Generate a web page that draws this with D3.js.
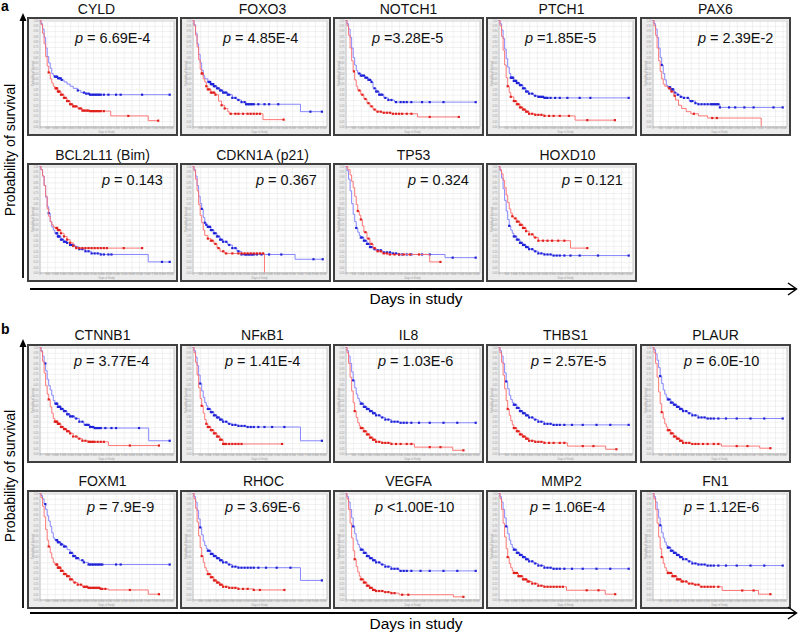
<!DOCTYPE html>
<html><head><meta charset="utf-8">
<script src="https://cdn.jsdelivr.net/npm/d3@7"></script>
<style>body{margin:0;background:#fff}svg{display:block}text{font-family:"Liberation Sans",Arial,Helvetica,sans-serif}</style>
</head><body><svg id="c" width="798" height="633"></svg>
<script>
// ---------- labels ----------
const titles = ["CYLD","FOXO3","NOTCH1","PTCH1","PAX6","BCL2L11 (Bim)","CDKN1A (p21)","TP53","HOXD10",
  "CTNNB1","NFκB1","IL8","THBS1","PLAUR","FOXM1","RHOC","VEGFA","MMP2","FN1"];
const pTexts = [" = 6.69E-4"," = 4.85E-4"," =3.28E-5"," =1.85E-5"," = 2.39E-2"," = 0.143"," = 0.367"," = 0.324"," = 0.121",
  " = 3.77E-4"," = 1.41E-4"," = 1.03E-6"," = 2.57E-5"," = 6.0E-10"," = 7.9E-9"," = 3.69E-6"," <1.00E-10"," = 1.06E-4"," = 1.12E-6"];
const yTicks = [0,0.05,0.1,0.15,0.2,0.25,0.3,0.35,0.4,0.45,0.5,0.55,0.6,0.65,0.7,0.75,0.8,0.85,0.9,0.95,1];
const xTicks = [0,500,1000,1500,2000,2500,3000,3500,4000,4500,5000,5500,6000,6500,7000,7500,8000,8500];

// ---------- curves: [day, survival from that day] ; censor days ----------
const CYLD_b = [[0,1],[100,0.97],[200,0.92],[300,0.84],[400,0.74],[500,0.66],[600,0.6],[700,0.55],[800,0.5],[900,0.48],[1000,0.47],[1200,0.455],[1400,0.44],[1600,0.42],[1800,0.4],[2000,0.38],[2200,0.36],[2500,0.34],[2700,0.32],[3000,0.31],[3300,0.3],[8550,0.3]];
const CYLD_bc = [1000,1080,1150,1220,1300,1380,1450,2500,2900,3050,3200,3300,3400,3500,3600,3700,3800,3900,4000,4200,4500,5000,5300,6700,8500];
const CYLD_r = [[0,1],[100,0.96],[200,0.88],[300,0.78],[400,0.66],[500,0.57],[600,0.51],[700,0.45],[800,0.41],[900,0.38],[1000,0.36],[1200,0.33],[1400,0.3],[1600,0.27],[1800,0.24],[2000,0.21],[2200,0.19],[2500,0.17],[2800,0.15],[3300,0.145],[4650,0.1],[7100,0.055],[7750,0.055]];
const CYLD_rc = [600,1050,1100,1150,1200,1250,1300,1400,1500,1600,1700,1800,1900,2000,2100,2200,2300,2400,2600,2700,2800,2900,3000,3100,3200,3300,3400,3500,3600,3700,3800,3900,4000,4200,5800,7750];

const FOXO3_b = [[0,1],[100,0.96],[200,0.88],[300,0.78],[400,0.68],[500,0.6],[600,0.53],[700,0.48],[800,0.45],[1000,0.42],[1200,0.4],[1400,0.38],[1600,0.36],[1800,0.34],[2000,0.32],[2300,0.3],[2600,0.27],[2900,0.25],[3200,0.23],[3500,0.21],[7050,0.14],[8500,0.14]];
const FOXO3_bc = [1050,1100,1150,1200,1250,1300,1350,1400,1500,1600,1700,1800,1900,2000,2100,2200,2300,2400,2600,2800,3000,3200,3400,3500,3600,3700,3800,3900,4000,4300,4700,5000,5600,7700,8450];
const FOXO3_r = [[0,1],[100,0.95],[200,0.86],[300,0.75],[400,0.63],[500,0.54],[600,0.5],[700,0.45],[800,0.42],[900,0.38],[1000,0.35],[1200,0.32],[1500,0.3],[1700,0.24],[1900,0.2],[2100,0.17],[2300,0.14],[2400,0.12],[4600,0.065],[5950,0.065]];
const FOXO3_rc = [600,650,900,1000,1100,1200,1300,1400,1500,1900,2100,2500,2800,3000,3300,3600,3800,4000,4200,4400,5950];

const NOTCH1_b = [[0,1],[100,0.97],[200,0.92],[300,0.84],[400,0.74],[500,0.65],[600,0.58],[700,0.53],[800,0.5],[1000,0.48],[1300,0.46],[1500,0.44],[1700,0.42],[1800,0.36],[2000,0.33],[2200,0.3],[2500,0.27],[2800,0.25],[3200,0.23],[8550,0.23]];
const NOTCH1_bc = [900,1000,1100,1200,1300,1400,1500,1600,1700,1900,2000,2100,2200,2300,2400,2600,2800,3000,3300,3600,3800,4000,4300,5000,5500,6400,8500];
const NOTCH1_r = [[0,1],[100,0.95],[200,0.86],[300,0.74],[400,0.62],[500,0.52],[600,0.44],[700,0.38],[800,0.34],[1000,0.3],[1200,0.26],[1400,0.22],[1600,0.19],[1800,0.16],[2000,0.14],[2400,0.13],[3000,0.12],[4700,0.09],[7400,0.09]];
const NOTCH1_rc = [550,900,1100,1300,1500,1700,1900,2100,2300,2500,2700,2900,3100,3300,3500,3700,4000,4300,5500,7400];

const PTCH1_b = [[0,1],[100,0.97],[200,0.91],[300,0.83],[400,0.73],[500,0.64],[600,0.56],[700,0.5],[800,0.46],[1000,0.43],[1200,0.41],[1400,0.39],[1600,0.36],[1800,0.33],[2000,0.31],[2300,0.29],[2600,0.28],[3000,0.27],[8550,0.27]];
const PTCH1_bc = [800,850,900,950,1000,1050,1100,1150,1200,1300,1400,1500,1600,1700,1800,1900,2000,2200,2400,2600,2700,2800,2900,3000,3100,3200,3400,3700,4000,4500,5300,6000,8500];
const PTCH1_r = [[0,1],[100,0.95],[200,0.85],[300,0.72],[400,0.58],[500,0.46],[600,0.38],[700,0.32],[800,0.28],[1000,0.24],[1200,0.21],[1400,0.18],[1600,0.16],[1800,0.14],[2000,0.12],[2400,0.11],[3000,0.1],[5000,0.06],[7600,0.06]];
const PTCH1_rc = [600,800,1000,1100,1200,1300,1400,1500,1600,1700,1800,1900,2000,2200,2400,2600,2800,3000,3300,3600,4000,4600,5800,7600];

const PAX6_b = [[0,1],[100,0.97],[200,0.92],[300,0.84],[400,0.74],[500,0.65],[600,0.58],[700,0.5],[800,0.44],[900,0.39],[1000,0.37],[1200,0.35],[1400,0.32],[1600,0.3],[1800,0.28],[2000,0.27],[2400,0.24],[2800,0.22],[3000,0.21],[4400,0.18],[8550,0.18]];
const PAX6_bc = [600,1100,1150,1200,1250,1300,1350,1450,1650,1850,2050,2300,2500,2600,2800,3000,3200,3400,3600,3800,3900,4000,4100,4200,4300,4400,5000,5400,6000,6600,7900,8500];
const PAX6_r = [[0,1],[100,0.95],[200,0.86],[300,0.74],[400,0.62],[500,0.52],[600,0.45],[700,0.4],[800,0.38],[1000,0.36],[1200,0.33],[1400,0.29],[1500,0.25],[1700,0.2],[1900,0.17],[2200,0.14],[2500,0.12],[3000,0.1],[3600,0.08],[7100,0]];
const PAX6_rc = [1100,1250,1450,2700,3900,4200];

const BCL2L11_b = [[0,1],[100,0.97],[200,0.91],[300,0.82],[400,0.71],[500,0.62],[600,0.56],[700,0.48],[800,0.43],[900,0.4],[1000,0.37],[1200,0.34],[1400,0.31],[1600,0.29],[1800,0.28],[2000,0.26],[2300,0.24],[2600,0.22],[3000,0.2],[3400,0.18],[4000,0.17],[7100,0.1],[8550,0.1]];
const BCL2L11_bc = [600,1100,1150,1200,1250,1300,1400,1500,1600,1700,1800,2000,2100,2200,2400,2600,2800,3000,3200,3400,3600,3800,4000,4200,4500,4700,8000,8500];
const BCL2L11_r = [[0,1],[100,0.97],[200,0.91],[300,0.82],[400,0.72],[500,0.6],[600,0.53],[700,0.48],[800,0.45],[900,0.43],[1000,0.42],[1200,0.4],[1400,0.37],[1600,0.34],[1800,0.31],[2000,0.28],[2200,0.25],[2400,0.23],[6700,0.23]];
const BCL2L11_rc = [1100,1150,1200,1300,1400,1600,1800,2000,2200,2400,2600,2800,3000,3200,3400,3600,3800,4000,4200,4400,5500,6700];

const CDKN1A_b = [[0,1],[100,0.97],[200,0.91],[300,0.82],[400,0.72],[500,0.65],[600,0.6],[700,0.52],[800,0.47],[900,0.45],[1000,0.43],[1200,0.4],[1400,0.37],[1600,0.34],[1800,0.31],[2000,0.29],[2300,0.26],[2600,0.23],[2900,0.2],[3200,0.17],[6700,0.125],[8550,0.125]];
const CDKN1A_bc = [600,800,900,1000,1050,1100,1150,1200,1300,1400,1500,1600,1700,1800,1900,2000,2200,2400,2600,2800,3000,3200,3400,3500,3600,3700,3800,3900,4000,4200,4500,5000,5800,7900,8500];
const CDKN1A_r = [[0,1],[100,0.96],[200,0.88],[300,0.77],[400,0.64],[500,0.54],[600,0.47],[700,0.4],[800,0.35],[1000,0.32],[1200,0.3],[1400,0.27],[1600,0.23],[1800,0.2],[2100,0.18],[4700,0]];
const CDKN1A_rc = [1000,1200,1300,1500,1700,2000,2200,2600,3000,3200,3400,3600,3800,4000,4200,4400,4600];

const TP53_b = [[0,1],[100,0.96],[200,0.88],[300,0.77],[400,0.65],[500,0.55],[600,0.48],[700,0.42],[800,0.38],[900,0.35],[1000,0.33],[1200,0.3],[1400,0.27],[1600,0.24],[1800,0.22],[2000,0.21],[2400,0.19],[3000,0.18],[3500,0.17],[6500,0.14],[8550,0.14]];
const TP53_bc = [700,1000,1100,1200,1300,1400,1500,1600,1700,1900,2100,2300,2500,2700,2900,3100,3300,3500,3700,4000,4300,5000,5500,7000,8500];
const TP53_r = [[0,1],[150,0.97],[300,0.92],[400,0.86],[500,0.8],[600,0.72],[700,0.64],[800,0.58],[900,0.54],[1000,0.5],[1100,0.44],[1200,0.38],[1400,0.32],[1600,0.27],[1800,0.23],[2000,0.2],[2400,0.18],[2800,0.17],[5500,0.1],[6200,0.1]];
const TP53_rc = [800,1000,1300,1500,1700,1900,2100,2300,2500,2700,2900,3200,3500,3800,4200,4800,6200];

const HOXD10_b = [[0,1],[100,0.96],[200,0.89],[300,0.79],[400,0.68],[500,0.58],[600,0.5],[700,0.44],[800,0.4],[900,0.37],[1000,0.34],[1200,0.31],[1400,0.28],[1600,0.26],[1800,0.24],[2000,0.22],[2300,0.2],[2600,0.18],[3000,0.17],[3500,0.16],[8550,0.16]];
const HOXD10_bc = [700,1000,1100,1200,1300,1400,1500,1600,1700,1800,1900,2000,2200,2400,2600,2800,3000,3200,3400,3600,3800,4000,4300,4700,5300,6500,8500];
const HOXD10_r = [[0,1],[100,0.97],[200,0.93],[300,0.87],[400,0.8],[500,0.73],[600,0.66],[700,0.6],[800,0.56],[900,0.53],[1000,0.51],[1200,0.48],[1400,0.45],[1600,0.42],[1800,0.39],[2000,0.36],[2300,0.33],[2600,0.3],[4700,0.23],[5800,0.23]];
const HOXD10_rc = [900,1100,1200,1300,1400,1500,1600,1700,1800,2000,2200,2400,2600,2900,3200,3500,3900,4300,5800];

const CTNNB1_b = [[0,1],[100,0.97],[200,0.92],[300,0.85],[400,0.78],[500,0.7],[600,0.64],[700,0.6],[800,0.55],[900,0.5],[1000,0.47],[1200,0.44],[1400,0.42],[1600,0.4],[1800,0.37],[2000,0.35],[2300,0.33],[2600,0.3],[2900,0.27],[3300,0.25],[3600,0.24],[7130,0.12],[8550,0.12]];
const CTNNB1_bc = [380,1050,1100,1150,1200,1250,1300,1350,1400,1500,1600,1700,1800,1900,2000,2100,2200,2400,2600,2800,3000,3100,3200,3300,3400,3500,3600,3700,3800,3900,4000,4300,4700,5000,6500,8500];
const CTNNB1_r = [[0,1],[100,0.96],[200,0.87],[300,0.76],[400,0.64],[500,0.56],[600,0.51],[700,0.44],[800,0.38],[900,0.33],[1000,0.3],[1200,0.28],[1400,0.25],[1600,0.23],[1800,0.21],[2000,0.19],[2200,0.16],[2500,0.14],[2800,0.12],[3200,0.11],[4500,0.075],[7800,0.075]];
const CTNNB1_rc = [600,1000,1050,1100,1150,1200,1250,1300,1400,1500,1600,1700,1800,1900,2000,2200,2400,2600,2800,3000,3200,3300,3400,3500,3600,3800,4000,4200,5900,7800];

const NFKB1_b = [[0,1],[100,0.97],[200,0.91],[300,0.83],[400,0.74],[500,0.66],[600,0.59],[700,0.53],[800,0.48],[900,0.45],[1000,0.42],[1200,0.39],[1400,0.36],[1600,0.34],[1800,0.32],[2000,0.3],[2300,0.28],[2600,0.27],[3000,0.26],[3500,0.25],[7050,0.12],[8450,0.12]];
const NFKB1_bc = [500,1000,1100,1200,1300,1400,1500,1600,1700,1800,1900,2000,2200,2400,2600,2800,3000,3200,3400,3600,3800,4000,4300,4700,5200,6000,8450];
const NFKB1_r = [[0,1],[100,0.95],[200,0.86],[300,0.74],[400,0.62],[500,0.52],[600,0.45],[700,0.38],[800,0.32],[900,0.28],[1000,0.25],[1200,0.22],[1400,0.19],[1600,0.16],[1800,0.13],[2000,0.09],[5850,0.09]];
const NFKB1_rc = [600,900,1000,1100,1200,1300,1400,1500,1600,1700,1800,1900,2000,2100,2200,2400,2600,2800,3000,3200,5850];

const IL8_b = [[0,1],[100,0.97],[200,0.92],[300,0.85],[400,0.77],[500,0.69],[600,0.62],[700,0.56],[800,0.52],[900,0.49],[1000,0.47],[1200,0.44],[1400,0.42],[1600,0.4],[1800,0.38],[2000,0.36],[2300,0.34],[2600,0.32],[3000,0.3],[3500,0.29],[8550,0.29]];
const IL8_bc = [500,1000,1100,1200,1300,1400,1500,1600,1700,1800,1900,2000,2200,2400,2600,2800,3000,3200,3400,3600,3800,4000,4300,4800,5500,6400,7300,8500];
const IL8_r = [[0,1],[100,0.95],[200,0.85],[300,0.72],[400,0.59],[500,0.48],[600,0.4],[700,0.34],[800,0.29],[900,0.26],[1000,0.24],[1200,0.21],[1400,0.18],[1600,0.15],[1800,0.13],[2000,0.11],[2400,0.1],[3000,0.09],[4500,0.06],[7000,0.03],[7700,0.03]];
const IL8_rc = [600,1000,1100,1200,1300,1400,1500,1600,1700,1800,1900,2000,2200,2400,2600,2800,3000,3300,3600,4000,4300,5500,6200,7700];

const THBS1_b = [[0,1],[100,0.97],[200,0.92],[300,0.85],[400,0.76],[500,0.68],[600,0.61],[700,0.55],[800,0.51],[900,0.48],[1000,0.46],[1200,0.43],[1400,0.4],[1600,0.38],[1800,0.36],[2000,0.34],[2300,0.32],[2600,0.3],[3000,0.28],[3500,0.27],[8550,0.27]];
const THBS1_bc = [500,1000,1100,1200,1300,1400,1500,1600,1700,1800,1900,2000,2200,2400,2600,2800,3000,3200,3400,3600,3800,4000,4300,4800,5500,6400,7300,8500];
const THBS1_r = [[0,1],[100,0.95],[200,0.86],[300,0.74],[400,0.61],[500,0.5],[600,0.42],[700,0.36],[800,0.31],[900,0.27],[1000,0.24],[1200,0.21],[1400,0.18],[1600,0.16],[1800,0.14],[2000,0.12],[2400,0.11],[3000,0.1],[4500,0.07],[7000,0.04],[7700,0.04]];
const THBS1_rc = [600,1000,1100,1200,1300,1400,1500,1600,1700,1800,1900,2000,2200,2400,2600,2800,3000,3300,3600,4000,4300,5500,6200,7700];

const PLAUR_b = [[0,1],[100,0.98],[200,0.94],[300,0.88],[400,0.81],[500,0.73],[600,0.66],[700,0.6],[800,0.56],[900,0.53],[1000,0.51],[1200,0.48],[1400,0.46],[1600,0.44],[1800,0.42],[2000,0.4],[2300,0.38],[2600,0.36],[3000,0.34],[3500,0.33],[8550,0.33]];
const PLAUR_bc = [500,1000,1100,1200,1300,1400,1500,1600,1700,1800,1900,2000,2200,2400,2600,2800,3000,3200,3400,3600,3800,4000,4300,4800,5500,6400,7300,8500];
const PLAUR_r = [[0,1],[100,0.95],[200,0.85],[300,0.72],[400,0.58],[500,0.47],[600,0.39],[700,0.33],[800,0.28],[900,0.25],[1000,0.22],[1200,0.19],[1400,0.16],[1600,0.14],[1800,0.12],[2000,0.1],[2500,0.09],[4500,0.07],[7000,0.05],[7700,0.05]];
const PLAUR_rc = [600,1000,1100,1200,1300,1400,1500,1600,1700,1800,1900,2000,2200,2400,2600,2800,3000,3300,3600,4000,4300,5500,6200,7700];

const FOXM1_b = [[0,1],[100,0.98],[200,0.95],[300,0.9],[400,0.85],[500,0.79],[600,0.74],[700,0.69],[800,0.63],[900,0.58],[1000,0.56],[1200,0.54],[1400,0.52],[1600,0.5],[1800,0.47],[2000,0.44],[2200,0.41],[2400,0.39],[2600,0.37],[2900,0.35],[3200,0.33],[8550,0.33]];
const FOXM1_bc = [380,1100,1150,1200,1300,1400,1450,1600,1700,2000,2100,2200,2300,2400,2500,2800,2900,3200,3300,3400,3500,3600,3700,3800,3900,4000,4100,5000,5300,8500];
const FOXM1_r = [[0,1],[100,0.96],[200,0.88],[300,0.78],[400,0.66],[500,0.56],[600,0.5],[700,0.44],[800,0.39],[900,0.35],[1000,0.33],[1200,0.3],[1400,0.27],[1600,0.24],[1800,0.22],[2000,0.19],[2200,0.16],[2500,0.14],[2800,0.12],[3200,0.11],[4000,0.1],[4500,0.09],[7100,0.05],[7800,0.05]];
const FOXM1_rc = [600,1100,1150,1200,1250,1300,1350,1400,1450,1500,1600,1700,1800,1900,2000,2100,2300,2500,2700,2900,3000,3100,3200,3300,3400,3500,3600,3700,3800,3900,4000,4100,4300,5900,7800];

const RHOC_b = [[0,1],[100,0.97],[200,0.92],[300,0.84],[400,0.76],[500,0.68],[600,0.61],[700,0.55],[800,0.51],[900,0.48],[1000,0.46],[1200,0.43],[1400,0.41],[1600,0.39],[1800,0.37],[2000,0.35],[2300,0.33],[2600,0.31],[3000,0.3],[7050,0.18],[8450,0.18]];
const RHOC_bc = [500,1000,1100,1200,1300,1400,1500,1600,1700,1800,1900,2000,2200,2400,2600,2800,3000,3200,3400,3600,3800,4000,4300,4800,5500,6400,8450];
const RHOC_r = [[0,1],[100,0.95],[200,0.86],[300,0.73],[400,0.6],[500,0.49],[600,0.41],[700,0.35],[800,0.3],[900,0.27],[1000,0.24],[1200,0.21],[1400,0.18],[1600,0.16],[1800,0.14],[2000,0.12],[2400,0.11],[3000,0.1],[4000,0.09],[6000,0.09]];
const RHOC_rc = [600,1000,1100,1200,1300,1400,1500,1600,1700,1800,1900,2000,2200,2400,2600,2800,3000,3300,3600,4000,4400,6000];

const VEGFA_b = [[0,1],[100,0.97],[200,0.92],[300,0.85],[400,0.77],[500,0.69],[600,0.62],[700,0.56],[800,0.52],[900,0.49],[1000,0.47],[1200,0.44],[1400,0.41],[1600,0.39],[1800,0.37],[2000,0.35],[2300,0.33],[2600,0.31],[3000,0.29],[3500,0.27],[8550,0.27]];
const VEGFA_bc = [500,1000,1100,1200,1300,1400,1500,1600,1700,1800,1900,2000,2200,2400,2600,2800,3000,3200,3400,3600,3800,4000,4300,4900,5500,6400,7300,8500];
const VEGFA_r = [[0,1],[100,0.95],[200,0.85],[300,0.72],[400,0.58],[500,0.46],[600,0.38],[700,0.31],[800,0.26],[900,0.22],[1000,0.19],[1200,0.16],[1400,0.13],[1600,0.11],[1800,0.09],[2000,0.08],[2500,0.07],[3000,0.06],[3500,0.045],[7050,0.025],[7700,0.025]];
const VEGFA_rc = [600,1000,1100,1200,1300,1400,1500,1600,1700,1800,1900,2000,2200,2400,2600,2800,3000,3200,3700,4100,7700];

const MMP2_b = [[0,1],[100,0.97],[200,0.92],[300,0.85],[400,0.77],[500,0.69],[600,0.62],[700,0.56],[800,0.52],[900,0.49],[1000,0.47],[1200,0.44],[1400,0.42],[1600,0.4],[1800,0.38],[2000,0.36],[2300,0.34],[2600,0.32],[3000,0.3],[3500,0.29],[8550,0.29]];
const MMP2_bc = [500,1000,1100,1200,1300,1400,1500,1600,1700,1800,1900,2000,2200,2400,2600,2800,3000,3200,3400,3600,3800,4000,4300,4800,5500,6400,7300,8500];
const MMP2_r = [[0,1],[100,0.95],[200,0.85],[300,0.72],[400,0.59],[500,0.48],[600,0.4],[700,0.34],[800,0.3],[900,0.27],[1000,0.25],[1300,0.22],[1600,0.19],[1900,0.17],[2200,0.15],[2600,0.13],[3000,0.12],[4440,0.087],[6970,0.05],[7620,0.05]];
const MMP2_rc = [600,1000,1100,1200,1300,1400,1500,1600,1700,1800,1900,2000,2200,2400,2600,2800,3000,3200,3400,3600,3800,4000,4200,5760,6530,7620];

const FN1_b = [[0,1],[100,0.97],[200,0.92],[300,0.85],[400,0.77],[500,0.7],[600,0.63],[700,0.58],[800,0.54],[900,0.51],[1000,0.49],[1200,0.46],[1400,0.44],[1600,0.42],[1800,0.4],[2000,0.38],[2300,0.36],[2600,0.34],[3000,0.33],[3500,0.32],[8550,0.32]];
const FN1_bc = [500,1000,1100,1200,1300,1400,1500,1600,1700,1800,1900,2000,2200,2400,2600,2800,3000,3200,3400,3600,3800,4000,4300,4800,5500,6400,7300,8500];
const FN1_r = [[0,1],[100,0.95],[200,0.85],[300,0.72],[400,0.59],[500,0.48],[600,0.4],[700,0.34],[800,0.3],[900,0.27],[1000,0.25],[1300,0.22],[1600,0.19],[1900,0.17],[2300,0.15],[2700,0.14],[3100,0.12],[4550,0.085],[6920,0.05],[7700,0.05]];
const FN1_rc = [600,1000,1100,1200,1300,1400,1500,1600,1700,1800,1900,2000,2200,2400,2600,2800,3000,3200,3400,3600,3800,4000,4300,5860,6600,7700];

// ---------- layout ----------
const panelRow = [0,0,0,0,0,1,1,1,1,2,2,2,2,2,3,3,3,3,3];
const panelCol = [0,1,2,3,4,0,1,2,3,0,1,2,3,4,0,1,2,3,4];
const blues = [CYLD_b,FOXO3_b,NOTCH1_b,PTCH1_b,PAX6_b,BCL2L11_b,CDKN1A_b,TP53_b,HOXD10_b,CTNNB1_b,NFKB1_b,IL8_b,THBS1_b,PLAUR_b,FOXM1_b,RHOC_b,VEGFA_b,MMP2_b,FN1_b];
const blueC = [CYLD_bc,FOXO3_bc,NOTCH1_bc,PTCH1_bc,PAX6_bc,BCL2L11_bc,CDKN1A_bc,TP53_bc,HOXD10_bc,CTNNB1_bc,NFKB1_bc,IL8_bc,THBS1_bc,PLAUR_bc,FOXM1_bc,RHOC_bc,VEGFA_bc,MMP2_bc,FN1_bc];
const reds = [CYLD_r,FOXO3_r,NOTCH1_r,PTCH1_r,PAX6_r,BCL2L11_r,CDKN1A_r,TP53_r,HOXD10_r,CTNNB1_r,NFKB1_r,IL8_r,THBS1_r,PLAUR_r,FOXM1_r,RHOC_r,VEGFA_r,MMP2_r,FN1_r];
const redC = [CYLD_rc,FOXO3_rc,NOTCH1_rc,PTCH1_rc,PAX6_rc,BCL2L11_rc,CDKN1A_rc,TP53_rc,HOXD10_rc,CTNNB1_rc,NFKB1_rc,IL8_rc,THBS1_rc,PLAUR_rc,FOXM1_rc,RHOC_rc,VEGFA_rc,MMP2_rc,FN1_rc];

const colX = [28,181,334,487,641];
const rowY = [18,164,345,491];
const titleBase = [14,160,340,486];
const pBase = [25,21,21,21];
const titleDx = [-6,7,0,0,0, 0,7,5,6, 0,7,0,4,0, 0,8,0,0,0];
const pX = [47,42,38,38,57, 74,75,74,75, 46,44,44,44,43, 59,44,41,43,43];
const BW = 149, BH = 117;

const svg = d3.select("#c");

function survAt(series, t){ let s = 1; for (const d of series){ if (d[0] <= t) s = d[1]; else break; } return s; }

function drawPanel(i){
  const x0 = colX[panelCol[i]], y0 = rowY[panelRow[i]];
  const g = svg.append("g").attr("transform", `translate(${x0},${y0})`);
  g.append("rect").attr("x",0).attr("y",0).attr("width",BW).attr("height",BH)
    .attr("fill","#ececec").attr("stroke","#404040").attr("stroke-width",2);
  const px0 = 11.5, px1 = 145.5, py0 = 2.5, py1 = 108.5;
  g.append("rect").attr("x",px0).attr("y",py0).attr("width",px1-px0).attr("height",py1-py0).attr("fill","#fff");
  const x = d3.scaleLinear().domain([0,8750]).range([px0,px1]);
  const y = d3.scaleLinear().domain([0,1]).range([py1,py0]);
  const gy = g.append("g").attr("transform",`translate(${px0},0)`)
    .call(d3.axisLeft(y).tickValues(yTicks).tickSize(-(px1-px0)).tickPadding(1).tickFormat(d3.format(".2f")));
  gy.select(".domain").attr("stroke","#aaa").attr("stroke-width",0.5);
  gy.selectAll(".tick line").attr("stroke","#e2e2e2").attr("stroke-width",0.5);
  gy.selectAll("text").attr("font-size",2.6).attr("fill","#999");
  const gx = g.append("g").attr("transform",`translate(0,${py1})`)
    .call(d3.axisBottom(x).tickValues(xTicks).tickSize(-(py1-py0)).tickPadding(1).tickFormat(d3.format(",")));
  gx.select(".domain").attr("stroke","#aaa").attr("stroke-width",0.5);
  gx.selectAll(".tick line").attr("stroke","#e2e2e2").attr("stroke-width",0.5);
  gx.selectAll("text").attr("font-size",2.6).attr("fill","#999");
  g.append("text").attr("transform",`translate(5.5,${(py0+py1)/2}) rotate(-90)`).attr("text-anchor","middle")
    .attr("font-size",2.6).attr("fill","#999").text("Probability of Survival");
  g.append("text").attr("x",(px0+px1)/2).attr("y",114.5).attr("text-anchor","middle")
    .attr("font-size",2.6).attr("fill","#999").text("Days in Study");

  const line = d3.line().x(d=>x(d[0])).y(d=>y(d[1])).curve(d3.curveStepAfter);
  const series = [[blues[i],blueC[i],"#7a7aff","#1f22d6"],[reds[i],redC[i],"#ff6a6a","#e0201c"]];
  series.forEach(([data,cens,lc,mc])=>{
    g.append("path").datum(data).attr("d",line).attr("fill","none").attr("stroke",lc).attr("stroke-width",0.9);
    g.selectAll(null).data(cens).enter().append("rect")
      .attr("x",d=>x(d)-1.1).attr("y",d=>y(survAt(data,d))-1.1).attr("width",2.2).attr("height",2.2).attr("fill",mc);
  });

  svg.append("text").attr("x",x0+BW/2+titleDx[i]).attr("y",titleBase[panelRow[i]]).attr("text-anchor","middle")
    .attr("font-size",14).attr("fill","#111").text(titles[i]);
  const pt = g.append("text").attr("x",pX[i]).attr("y",pBase[panelRow[i]]).attr("font-size",14.5).attr("fill","#111");
  pt.append("tspan").attr("font-style","italic").text("p");
  pt.append("tspan").text(pTexts[i]);
}
for (let i=0;i<titles.length;i++) drawPanel(i);

// ---------- outer axes ----------
function vAxis(yTop, yBot){
  svg.append("line").attr("x1",23).attr("x2",23).attr("y1",yTop+6).attr("y2",yBot).attr("stroke","#000").attr("stroke-width",1.8);
  svg.append("path").attr("d",`M23,${yTop} L19.5,${yTop+8} L26.5,${yTop+8} Z`).attr("fill","#000");
}
function hAxis(yy){
  svg.append("line").attr("x1",30).attr("x2",796).attr("y1",yy).attr("y2",yy).attr("stroke","#000").attr("stroke-width",1.8);
  svg.append("path").attr("d",`M788,${yy-6} L796.5,${yy} L788,${yy+6}`).attr("fill","none").attr("stroke","#000").attr("stroke-width",1.5);
}
vAxis(13,278); vAxis(339,608);
hAxis(289); hAxis(613);
svg.append("text").attr("x",416).attr("y",304).attr("text-anchor","middle").attr("font-size",15.5).text("Days in study");
svg.append("text").attr("x",416).attr("y",629).attr("text-anchor","middle").attr("font-size",15.5).text("Days in study");
svg.append("text").attr("transform","translate(15,150) rotate(-90)").attr("text-anchor","middle").attr("font-size",14).text("Probability of survival");
svg.append("text").attr("transform","translate(15,476) rotate(-90)").attr("text-anchor","middle").attr("font-size",14).text("Probability of survival");
svg.append("text").attr("x",1).attr("y",11).attr("font-size",14).attr("font-weight","bold").text("a");
svg.append("text").attr("x",1).attr("y",334).attr("font-size",14).attr("font-weight","bold").text("b");
</script></body></html>
